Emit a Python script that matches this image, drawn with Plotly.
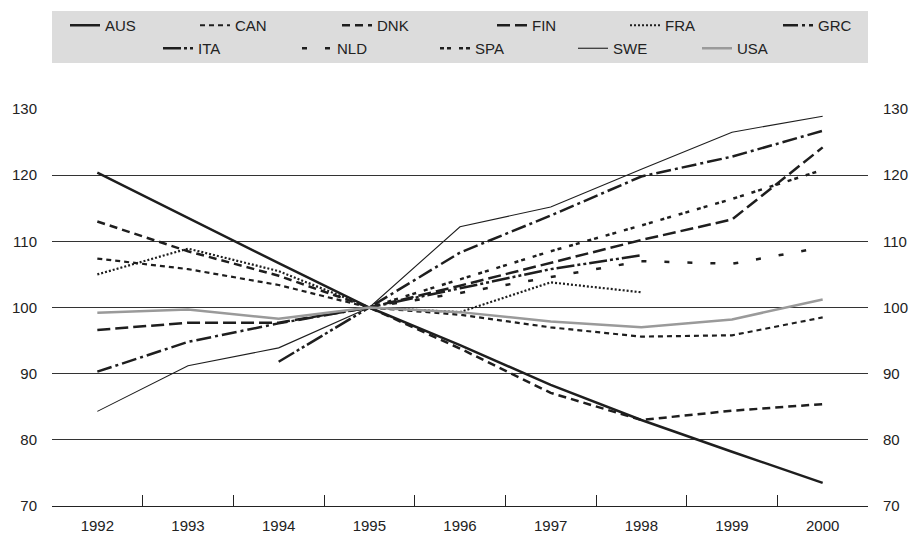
import plotly.graph_objects as go

years = [1992, 1993, 1994, 1995, 1996, 1997, 1998, 1999, 2000]

AUS = [120.4, 113.5, 106.7, 100, 94.3, 88.3, 83.0, 78.2, 73.5]
CAN = [107.4, 105.8, 103.4, 100, 98.9, 97.0, 95.6, 95.8, 98.5]
DNK = [113.0, 108.5, 104.8, 100, 93.8, 87.1, 83.0, 84.4, 85.4]
FIN = [96.6, 97.7, 97.7, 100, 103.3, 106.8, 110.2, 113.3, 124.2]
FRA = [105.0, 108.9, 105.5, 100, 99.3, 103.8, 102.3, None, None]
GRC = [90.3, 94.8, 97.6, 100, 108.3, 113.9, 119.8, 122.8, 126.7]
ITA = [None, None, 91.8, 100, 102.9, 105.8, 107.9, None, None]
NLD = [None, None, None, 100, 102.2, 104.6, 107.0, 106.6, 109.1]
SPA = [None, None, None, 100, 104.3, 108.5, 112.4, 116.4, 120.8]
SWE = [84.3, 91.2, 93.9, 100, 112.2, 115.2, 120.9, 126.5, 128.9]
USA = [99.2, 99.7, 98.3, 100, 99.3, 97.9, 97.0, 98.2, 101.2]

y_ticks = [70, 80, 90, 100, 110, 120, 130]

BLK = "#1e1e1e"
# name, values, line style, legend left x (px), legend top y (px)
series = [
    ("AUS", AUS, dict(color=BLK, width=2.5, dash="solid"), 65, 9),
    ("CAN", CAN, dict(color=BLK, width=2.2, dash="5px,4px"), 195, 9),
    ("DNK", DNK, dict(color=BLK, width=2.5, dash="8px,5px"), 337, 9),
    ("FIN", FIN, dict(color=BLK, width=2.5, dash="13px,5px"), 492, 9),
    ("FRA", FRA, dict(color=BLK, width=2.2, dash="2px,2px"), 625, 9),
    ("GRC", GRC, dict(color=BLK, width=2.5, dash="15px,4px,3px,4px"), 778, 9),
    ("ITA", ITA, dict(color=BLK, width=2.5, dash="18px,3px,3px,3px,3px,3px"), 158, 32),
    ("NLD", NLD, dict(color=BLK, width=2.5, dash="5px,18px"), 297, 32),
    ("SPA", SPA, dict(color=BLK, width=2.5, dash="4px,3px,4px,8px"), 435, 32),
    ("SWE", SWE, dict(color=BLK, width=1.1, dash="solid"), 573, 32),
    ("USA", USA, dict(color="#9a9a9a", width=2.5, dash="solid"), 697, 32),
]

FONT = "Liberation Sans, Arial, sans-serif"
FS = 15
W, H = 913, 533

fig = go.Figure()
legends = {}
for i, (name, vals, line, lx, ly) in enumerate(series):
    key = "legend" if i == 0 else f"legend{i + 1}"
    fig.add_trace(go.Scatter(x=years, y=vals, name=name, mode="lines",
                             line=line, legend=key, connectgaps=False))
    legends[key] = dict(orientation="h", xref="container", yref="container",
                        x=lx / W, y=1 - ly / H, xanchor="left", yanchor="top",
                        bgcolor="rgba(0,0,0,0)", itemwidth=30,
                        font=dict(family=FONT, size=FS, color="#222"))

# invisible trace to drive the right-hand axis
fig.add_trace(go.Scatter(x=[years[0]], y=[100], yaxis="y2", showlegend=False,
                         mode="markers", marker=dict(opacity=0), hoverinfo="skip"))

fig.update_layout(
    width=W, height=H,
    margin=dict(l=52, r=45, t=109, b=27, autoexpand=False),
    paper_bgcolor="white", plot_bgcolor="white",
    font=dict(family=FONT, size=FS, color="#222"),
    xaxis=dict(range=[1991.5, 2000.5], tickvals=years, ticktext=[str(y) for y in years],
               ticks="", showgrid=False, zeroline=False, showline=True,
               linecolor="#222", linewidth=1.2, ticklabelstandoff=6,
               minor=dict(tickvals=[y + 0.5 for y in years[:-1]], ticks="inside",
                          ticklen=11, tickcolor="#222", tickwidth=1.2, showgrid=False)),
    yaxis=dict(range=[70, 130], tickvals=y_ticks, showgrid=True, gridcolor="#333",
               gridwidth=1, zeroline=False, showline=False, ticks="",
               ticklabelstandoff=14),
    yaxis2=dict(range=[70, 130], tickvals=y_ticks, overlaying="y", side="right",
                showgrid=False, zeroline=False, showline=False, ticks="",
                ticklabelstandoff=14),
    shapes=[dict(type="rect", xref="paper", yref="paper", x0=0, x1=1,
                 y0=(506 - 63) / 397, y1=(506 - 11) / 397,
                 fillcolor="#dcdcdc", line=dict(width=0), layer="below")],
    **legends,
)

fig.write_html("out.html", config={"displayModeBar": False},
               post_script="document.body.style.margin='0';document.body.style.overflow='hidden';")
